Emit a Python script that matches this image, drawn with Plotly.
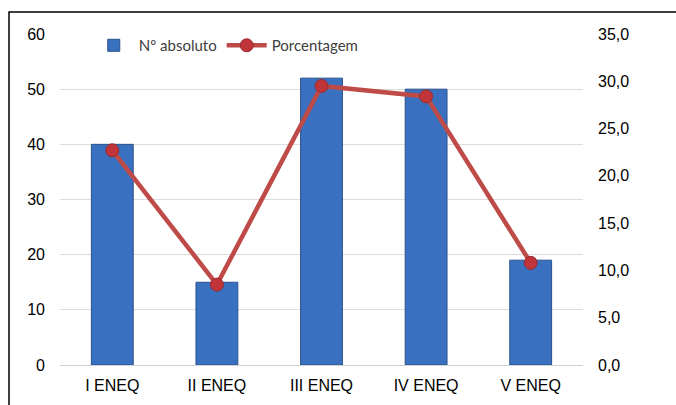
import plotly.graph_objects as go

# Dados
edicoes = ["I ENEQ", "II ENEQ", "III ENEQ", "IV ENEQ", "V ENEQ"]
n_absoluto = [40, 15, 52, 50, 19]
porcentagem = [22.7, 8.5, 29.5, 28.4, 10.8]

left_ticks = [0, 10, 20, 30, 40, 50, 60]
right_ticks = [0, 5, 10, 15, 20, 25, 30, 35]
right_labels = [f"{v:.1f}".replace(".", ",") for v in right_ticks]

W, H = 676, 405
ml, mr, mt, mb = 60, 93, 34, 40
pw = W - ml - mr
ph = H - mt - mb

fig = go.Figure()
fig.add_trace(go.Bar(
    x=edicoes, y=n_absoluto, name="Nº absoluto",
    marker=dict(color="#3a70c0", line=dict(color="#2b528c", width=1)),
))
fig.add_trace(go.Scatter(
    x=edicoes, y=porcentagem, name="Porcentagem", yaxis="y2",
    mode="lines+markers",
    line=dict(color="#be4b48", width=4.5),
    marker=dict(color="#c0343a", size=13, line=dict(color="#9c2a2e", width=1)),
))

# moldura do gráfico
fig.add_shape(
    type="rect", xref="paper", yref="paper",
    x0=(9 - ml) / pw, x1=(W + 5 - ml) / pw,
    y0=-(H + 5 - (H - mb)) / ph, y1=1 + (mt - 12) / ph,
    line=dict(color="#000000", width=1.5), fillcolor="rgba(0,0,0,0)", layer="below",
)

fig.update_layout(
    width=W, height=H,
    margin=dict(l=ml, r=mr, t=mt, b=mb),
    paper_bgcolor="white", plot_bgcolor="white",
    bargap=0.6,
    showlegend=True,
    legend=dict(
        orientation="h", x=0.055, y=1.015, xanchor="left", yanchor="top",
        font=dict(family="Lato, Liberation Sans, sans-serif", size=15, color="#404040"),
        bgcolor="rgba(0,0,0,0)", itemwidth=40, tracegroupgap=0,
    ),
    font=dict(family="Liberation Sans, Arial, sans-serif", size=16, color="#000000"),
    xaxis=dict(
        showgrid=False, showline=True, linecolor="#d0d0d0", linewidth=1,
        ticks="", tickfont=dict(size=16), ticklabelstandoff=6,
    ),
    yaxis=dict(
        range=[0, 60], tickvals=left_ticks, showgrid=True, gridcolor="#dcdcdc",
        gridwidth=1, zeroline=False, showline=False, ticks="", ticklabelstandoff=14,
        tickfont=dict(size=16),
    ),
    yaxis2=dict(
        range=[0, 35], tickvals=right_ticks, ticktext=right_labels,
        overlaying="y", side="right", showgrid=False, zeroline=False,
        showline=False, ticks="", ticklabelstandoff=14, tickfont=dict(size=16),
    ),
)

fig.write_html("out.html")
